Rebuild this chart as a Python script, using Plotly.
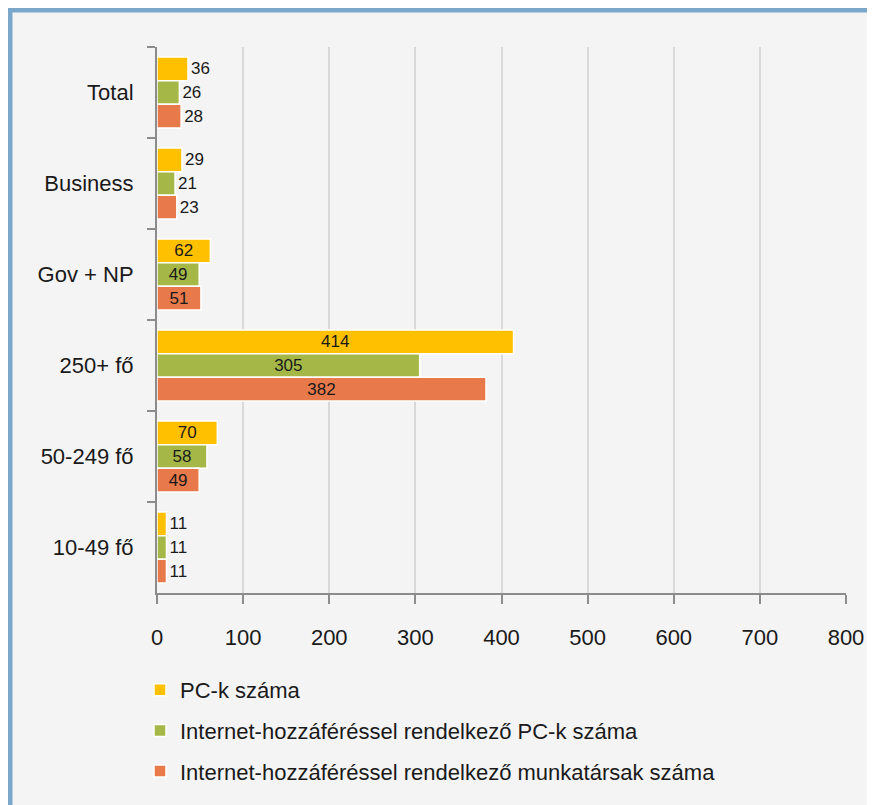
import plotly.graph_objects as go

categories = ["Total", "Business", "Gov + NP", "250+ fő", "50-249 fő", "10-49 fő"]
pc_count = [36, 29, 62, 414, 70, 11]
pc_internet = [26, 21, 49, 305, 58, 11]
staff_internet = [28, 23, 51, 382, 49, 11]
series_names = [
    "PC-k száma",
    "Internet-hozzáféréssel rendelkező PC-k száma",
    "Internet-hozzáféréssel rendelkező munkatársak száma",
]
colors = ["#FFC000", "#A5B847", "#E8794A"]
x_ticks = [0, 100, 200, 300, 400, 500, 600, 700, 800]

FONT = "Liberation Sans Narrow, Arial Narrow, Liberation Sans, Arial, sans-serif"

fig = go.Figure()
for name, vals, col in zip(series_names, [pc_count, pc_internet, staff_internet], colors):
    fig.add_trace(go.Bar(
        y=categories, x=vals, name=name, orientation="h",
        marker=dict(color=col, line=dict(color="white", width=1.5)),
        text=[str(v) for v in vals],
        textposition=["inside" if v > 45 else "outside" for v in vals],
        insidetextanchor="middle",
        constraintext="none",
        textangle=0,
        textfont=dict(family=FONT, size=17, color="#1a1a1a"),
        cliponaxis=False,
        legendgroup=name,
    ))

L, R, T, B = 149, 37, 39, 220
W, H = 875, 805
pw, ph = W - L - R, H - T - B

def px_x(p):
    return (p - L) / pw

def px_y(p):
    return (H - B - p) / ph

fig.add_shape(type="rect", xref="paper", yref="paper", layer="below",
              x0=px_x(2), x1=px_x(W + 20), y0=px_y(H + 20), y1=px_y(2),
              line=dict(color="#7BA7CB", width=5), fillcolor="#F4F4F4")

fig.update_layout(
    width=W, height=H,
    margin=dict(l=L, r=R, t=T, b=B),
    paper_bgcolor="white",
    plot_bgcolor="#F4F4F4",
    barmode="group",
    bargap=0.22,
    bargroupgap=0,
    font=dict(family=FONT, color="#1a1a1a"),
    showlegend=True,
    legend=dict(
        x=px_x(132), xanchor="left", y=px_y(661), yanchor="top",
        orientation="v", traceorder="grouped", tracegroupgap=9,
        bgcolor="rgba(0,0,0,0)",
        font=dict(family=FONT, size=22, color="#1a1a1a"),
    ),
    xaxis=dict(
        range=[0, 800], tickvals=x_ticks, ticktext=[str(v) for v in x_ticks],
        showgrid=True, gridcolor="#D9D9D9", gridwidth=1.5,
        showline=True, linecolor="#8C8C8C", linewidth=2,
        ticks="outside", ticklen=9, tickcolor="#8C8C8C", tickwidth=2,
        tickfont=dict(family=FONT, size=22, color="#1a1a1a"),
        ticklabelstandoff=15, zeroline=False,
    ),
    yaxis=dict(
        autorange="reversed", type="category",
        showline=True, linecolor="#8C8C8C", linewidth=2,
        ticks="outside", ticklen=8, tickcolor="#8C8C8C", tickwidth=2,
        tickson="boundaries", showgrid=False,
        tickfont=dict(family=FONT, size=22, color="#1a1a1a"),
        ticklabelstandoff=17,
    ),
)

fig.write_html("out.html")
